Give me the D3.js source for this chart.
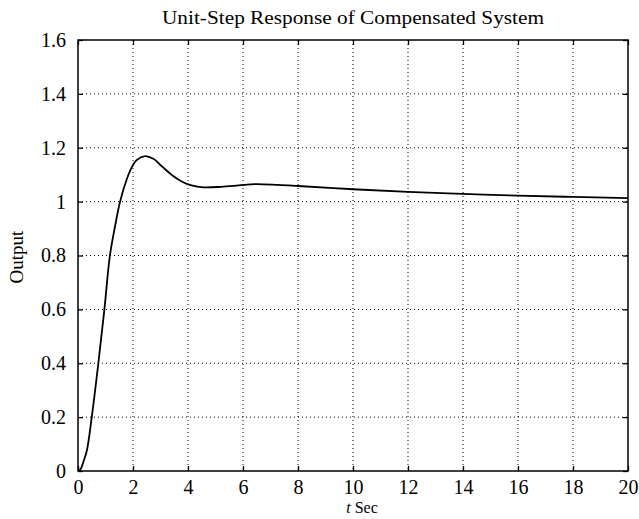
<!DOCTYPE html>
<html><head><meta charset="utf-8">
<script src="https://cdn.jsdelivr.net/npm/d3@7"></script>
<style>body{margin:0;background:#fff}svg{display:block}</style>
</head><body>
<svg id="c" width="639" height="519"></svg>
<script>
const tSec = [0,0.1,0.2,0.32,0.5,0.74,0.96,1.16,1.35,1.53,1.77,1.95,2.13,2.44,2.74,3.04,3.4,3.77,4.13,4.56,5.2,5.84,6.44,7.28,8,10,12,14,16,18,20];
const output = [0,0.008,0.035,0.075,0.2,0.4,0.6,0.8,0.91,1.0,1.082,1.126,1.154,1.169,1.159,1.132,1.10,1.075,1.06,1.053,1.055,1.06,1.065,1.062,1.058,1.046,1.036,1.029,1.022,1.0175,1.013];
const xTicks = [0,2,4,6,8,10,12,14,16,18,20];
const yTicks = [0,0.2,0.4,0.6,0.8,1,1.2,1.4,1.6];
const title = "Unit-Step Response of Compensated System";
const yLabel = "Output";

const svg = d3.select("#c");
const L=78, R=628, T=40, B=471;
const x = d3.scaleLinear().domain([0,20]).range([L,R]);
const y = d3.scaleLinear().domain([0,1.6]).range([B,T]);
const font = "'Liberation Serif','Times New Roman',serif";

// grid
svg.append("g").selectAll("line").data(xTicks.slice(1,-1)).join("line")
  .attr("x1",d=>x(d)).attr("x2",d=>x(d)).attr("y1",T).attr("y2",B)
  .attr("stroke","#000").attr("stroke-width",1).attr("stroke-dasharray","1,3");
svg.append("g").selectAll("line").data(yTicks.slice(1,-1)).join("line")
  .attr("y1",d=>y(d)).attr("y2",d=>y(d)).attr("x1",L).attr("x2",R)
  .attr("stroke","#000").attr("stroke-width",1).attr("stroke-dasharray","1,3");

// axes (ticks inward)
const ax = svg.append("g").attr("transform",`translate(0,${B})`)
  .call(d3.axisBottom(x).tickValues(xTicks).tickSizeInner(-5).tickSizeOuter(0).tickPadding(9).tickFormat(d3.format("d")));
const ay = svg.append("g").attr("transform",`translate(${L},0)`)
  .call(d3.axisLeft(y).tickValues(yTicks).tickSizeInner(-5).tickSizeOuter(0).tickPadding(12).tickFormat(d=>String(+d.toFixed(1))));
svg.append("g").attr("transform",`translate(0,${T})`)
  .call(d3.axisTop(x).tickValues(xTicks).tickSizeInner(-5).tickSizeOuter(0).tickFormat(""));
svg.append("g").attr("transform",`translate(${R},0)`)
  .call(d3.axisRight(y).tickValues(yTicks).tickSizeInner(-5).tickSizeOuter(0).tickFormat(""));
svg.selectAll(".domain").remove();
svg.selectAll(".tick line").attr("stroke","#000").attr("stroke-width",1.3);
[ax,ay].forEach(g=>g.selectAll("text").attr("font-family",font).attr("font-size",20).attr("fill","#000"));

svg.append("rect").attr("x",L).attr("y",T).attr("width",R-L).attr("height",B-T)
  .attr("fill","none").attr("stroke","#000").attr("stroke-width",1.5);

// curve
const pts = tSec.map((t,i)=>[t,output[i]]);
svg.append("path").datum(pts)
  .attr("d",d3.line().x(d=>x(d[0])).y(d=>y(d[1])).curve(d3.curveCatmullRom.alpha(0.5)))
  .attr("fill","none").attr("stroke","#000").attr("stroke-width",1.8);

// texts
svg.append("text").attr("x",(L+R)/2).attr("y",24).attr("text-anchor","middle")
  .attr("font-family",font).attr("font-size",18).attr("textLength",382).attr("lengthAdjust","spacingAndGlyphs").text(title);
const xl = svg.append("text").attr("x",362).attr("y",513).attr("text-anchor","middle")
  .attr("font-family",font).attr("font-size",16);
xl.append("tspan").attr("font-style","italic").text("t");
xl.append("tspan").text(" Sec");
svg.append("text").attr("transform",`translate(23,257) rotate(-90)`).attr("text-anchor","middle")
  .attr("font-family",font).attr("font-size",19).text(yLabel);
</script>
</body></html>
